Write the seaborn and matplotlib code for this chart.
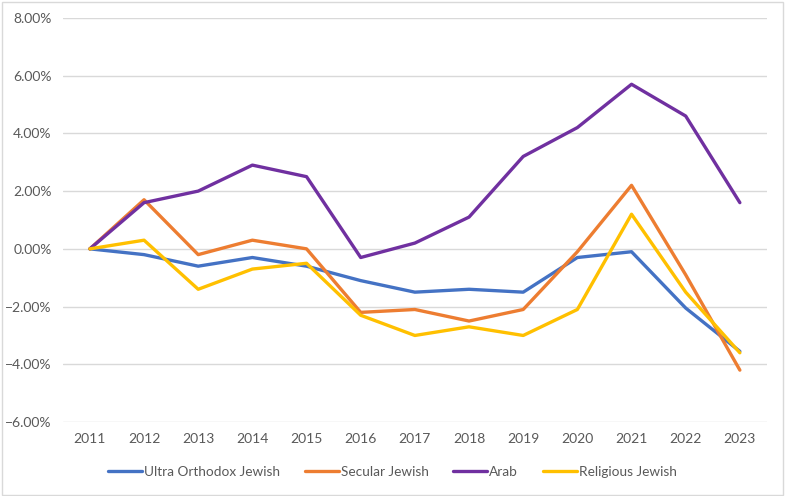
import numpy as np
import pandas as pd
import matplotlib
matplotlib.use("Agg")
import matplotlib.pyplot as plt
import matplotlib.ticker as mtick
from matplotlib.patches import Rectangle
import seaborn as sns

years = list(range(2011, 2024))
ultra_orthodox = [0.0, -0.2, -0.6, -0.3, -0.6, -1.1, -1.5, -1.4, -1.5, -0.3, -0.1, -2.05, -3.55]
secular = [0.0, 1.7, -0.2, 0.3, 0.0, -2.2, -2.1, -2.5, -2.1, -0.1, 2.2, -0.9, -4.2]
arab = [0.0, 1.6, 2.0, 2.9, 2.5, -0.3, 0.2, 1.1, 3.2, 4.2, 5.7, 4.6, 1.6]
religious = [0.0, 0.3, -1.4, -0.7, -0.5, -2.3, -3.0, -2.7, -3.0, -2.1, 1.2, -1.5, -3.6]

series_names = ["Ultra Orthodox Jewish", "Secular Jewish", "Arab", "Religious Jewish"]
colors = ["#4472C4", "#ED7D31", "#7030A0", "#FFC000"]

frames = []
for name, vals in zip(series_names, [ultra_orthodox, secular, arab, religious]):
    frames.append(pd.DataFrame({"year": years, "value": np.array(vals) / 100, "group": name}))
df = pd.concat(frames, ignore_index=True)

sns.set_style("white")
plt.rcParams["font.family"] = ["Lato", "DejaVu Sans"]

fig = plt.figure(figsize=(7.85, 4.96), dpi=100)
ax = fig.add_axes([0.080, 0.149, 0.897, 0.815])

sns.lineplot(data=df, x="year", y="value", hue="group", hue_order=series_names,
             palette=colors, lw=2.4, ax=ax, sort=False)

ax.set_xlim(2010.5, 2023.5)
ax.set_ylim(-0.06, 0.08)
ax.set_yticks(np.arange(-0.06, 0.081, 0.02))
ax.yaxis.set_major_formatter(mtick.PercentFormatter(1.0, decimals=2))
ax.set_xticks(years)
ax.set_xticklabels([str(y) for y in years])
ax.grid(axis="y", color="#D9D9D9", lw=1)
ax.grid(axis="x", visible=False)
for s in ax.spines.values():
    s.set_visible(False)
ax.tick_params(axis="both", colors="#595959", labelsize=10, length=0, pad=8)
ax.set_xlabel("")
ax.set_ylabel("")

# legend centred on the whole figure, below the axis
handles, labels = ax.get_legend_handles_labels()
ax.get_legend().remove()
fig.legend(handles, labels, loc="center", bbox_to_anchor=(0.5, 0.048), ncol=4,
           frameon=False, fontsize=9.8, labelcolor="#595959", handlelength=2.5,
           handletextpad=0.15, columnspacing=1.8)

fig.patches.append(Rectangle((0.002, 0.003), 0.995, 0.993, transform=fig.transFigure,
                             fill=False, edgecolor="#D9D9D9", lw=1))

fig.savefig("out.png", dpi=100)
